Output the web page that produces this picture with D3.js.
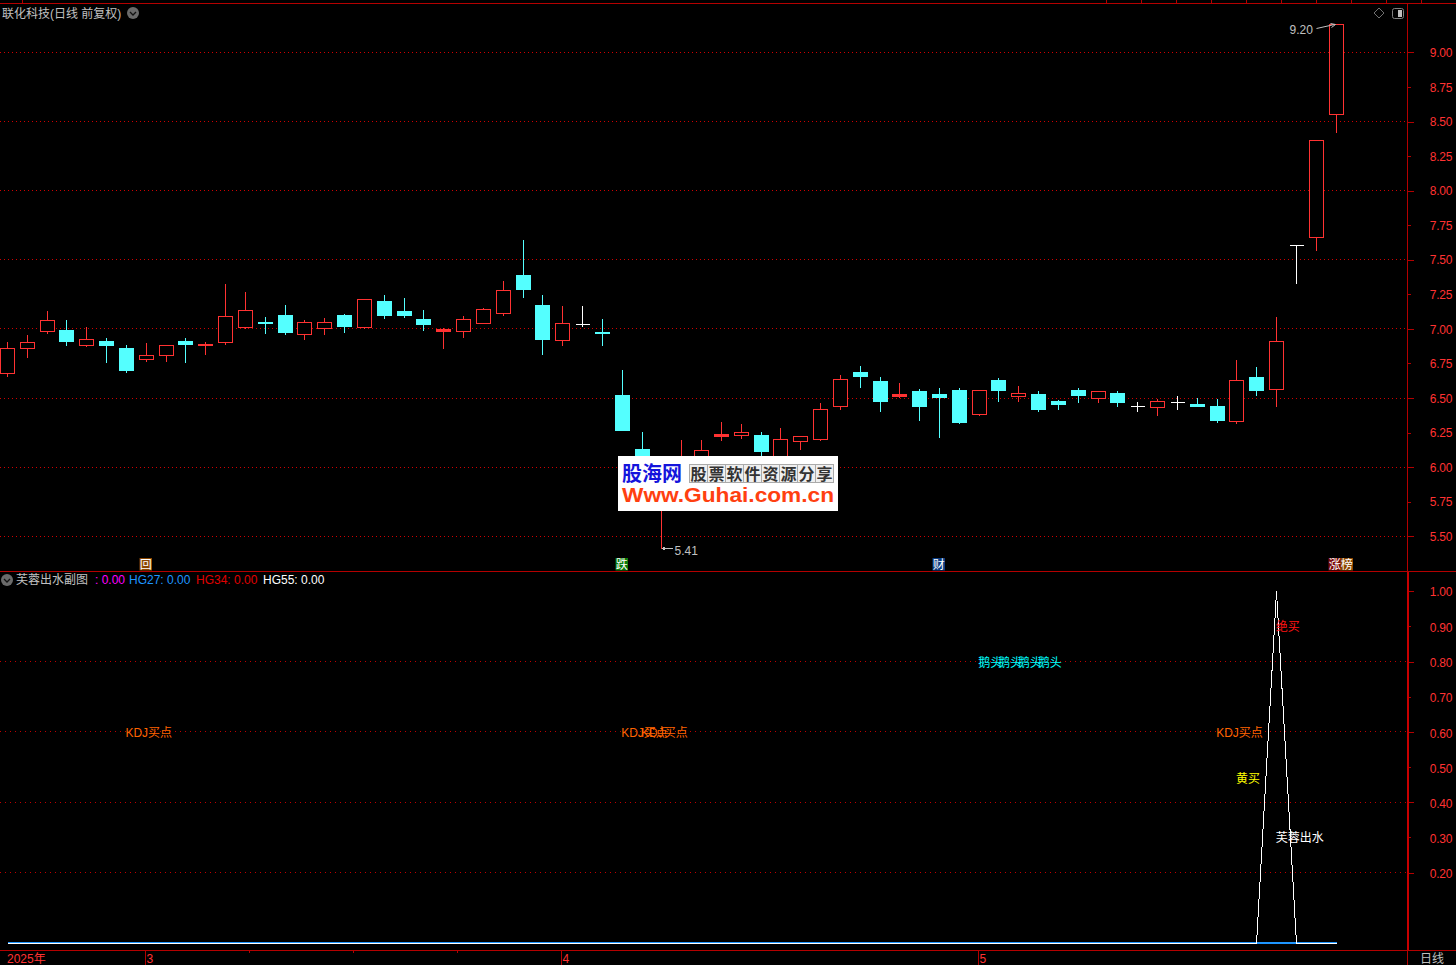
<!DOCTYPE html>
<html><head><meta charset="utf-8">
<script src="https://cdn.jsdelivr.net/npm/d3@7/dist/d3.min.js"></script>
<style>
html,body{margin:0;padding:0;background:#000;overflow:hidden}
svg{display:block}
text{font-family:"Liberation Sans","Noto Sans CJK SC",sans-serif;font-size:12px}
</style></head><body>
<svg id="c" width="1456" height="965"></svg>
<script>
// ---- price data ----
const opens  = [6.68,6.86,6.98,6.99,6.88,6.91,6.855,6.78,6.81,6.91,6.88,6.90,7.01,7.05,7.10,6.96,7.00,7.10,7.01,7.195,7.125,7.065,6.98,6.98,7.04,7.11,7.383,7.167,6.916,7.03,6.975,6.516,6.126,5.72,5.93,6.00,6.222,6.23,6.227,6.05,6.186,6.20,6.44,6.682,6.617,6.509,6.545,6.523,6.552,6.379,6.625,6.509,6.523,6.473,6.552,6.495,6.531,6.44,6.43,6.47,6.451,6.437,6.328,6.646,6.564,7.60,7.663,8.552];
const closes = [6.86,6.90,7.06,6.91,6.92,6.88,6.70,6.81,6.88,6.89,6.89,7.09,7.135,7.04,6.975,7.05,7.05,7.02,7.215,7.10,7.095,7.035,6.995,7.07,7.143,7.28,7.282,6.921,7.04,7.03,6.97,6.263,5.98,5.95,6.03,6.124,6.239,6.254,6.111,6.203,6.225,6.42,6.632,6.654,6.473,6.523,6.437,6.502,6.321,6.552,6.552,6.531,6.415,6.451,6.516,6.545,6.466,6.44,6.473,6.47,6.437,6.336,6.625,6.552,6.911,7.60,8.364,9.20];
const highs  = [6.91,6.96,7.13,7.065,7.02,6.94,6.885,6.90,6.88,6.94,6.91,7.33,7.27,7.09,7.18,7.065,7.08,7.115,7.215,7.25,7.225,7.14,7.01,7.094,7.157,7.347,7.644,7.246,7.167,7.167,7.073,6.71,6.256,6.00,6.198,6.198,6.328,6.314,6.256,6.285,6.232,6.466,6.668,6.733,6.654,6.61,6.567,6.574,6.574,6.552,6.646,6.589,6.552,6.487,6.574,6.545,6.552,6.473,6.495,6.516,6.502,6.495,6.776,6.726,7.087,7.605,8.364,9.20];
const lows   = [6.655,6.79,6.97,6.88,6.87,6.76,6.685,6.765,6.765,6.76,6.815,6.89,7.005,6.97,6.96,6.92,6.96,6.975,7.005,7.075,7.085,6.985,6.856,6.935,7.04,7.10,7.225,6.813,6.878,7.015,6.878,6.263,5.90,5.41,5.90,5.98,6.191,6.206,6.04,6.03,6.126,6.19,6.42,6.574,6.401,6.502,6.336,6.213,6.314,6.372,6.473,6.473,6.401,6.415,6.466,6.466,6.437,6.401,6.372,6.415,6.437,6.321,6.314,6.516,6.439,7.328,7.566,8.419];
const priceTicks = [5.5,5.75,6,6.25,6.5,6.75,7,7.25,7.5,7.75,8,8.25,8.5,8.75,9];
const priceGrid  = [5.5,6,6.5,7,7.5,8,8.5,9];
// ---- sub panel data ----
const hg0  = [0,0,0,0,0,0,0,0,0,0,0,0,0,0,0,0,0,0,0,0,0,0,0,0,0,0,0,0,0,0,0,0,0,0,0,0,0,0,0,0,0,0,0,0,0,0,0,0,0,0,0,0,0,0,0,0,0,0,0,0,0,0,0,0,0,0,0,0];
const hg27 = [0,0,0,0,0,0,0,0,0,0,0,0,0,0,0,0,0,0,0,0,0,0,0,0,0,0,0,0,0,0,0,0,0,0,0,0,0,0,0,0,0,0,0,0,0,0,0,0,0,0,0,0,0,0,0,0,0,0,0,0,0,0,0,0,0,0,0,0];
const hg34 = [0,0,0,0,0,0,0,0,0,0,0,0,0,0,0,0,0,0,0,0,0,0,0,0,0,0,0,0,0,0,0,0,0,0,0,0,0,0,0,0,0,0,0,0,0,0,0,0,0,0,0,0,0,0,0,0,0,0,0,0,0,0,0,0,0,0,0,0];
const hg55 = [0,0,0,0,0,0,0,0,0,0,0,0,0,0,0,0,0,0,0,0,0,0,0,0,0,0,0,0,0,0,0,0,0,0,0,0,0,0,0,0,0,0,0,0,0,0,0,0,0,0,0,0,0,0,0,0,0,0,0,0,0,0,0,0,1,0,0,0];
const subTicks = [0.2,0.3,0.4,0.5,0.6,0.7,0.8,0.9,1.0];
const subGrid  = [0.2,0.4,0.6,0.8];
const subLabelText  = ["KDJ买点","KDJ买点","KDJ买点","KDJ买点","鹅头","鹅头","鹅头","鹅头","绝买","黄买","芙蓉出水"];
const subLabelIndex = [6,31,32,61,49,50,51,52,64,62,64];
const subLabelValue = [0.6,0.6,0.6,0.6,0.8,0.8,0.8,0.8,0.9,0.47,0.3];
const subLabelColor = ["#ff6400","#ff6400","#ff6400","#ff6400","#00ffff","#00ffff","#00ffff","#00ffff","#ff1414","#ffff00","#ffffff"];
// ---- signals ----
const badgeText  = ["回","跌","财","涨","榜"];
const badgeIndex = [7,31,47,67,67];
const badgeShift = [0,0,0,-1,11];
const badgeFill  = ["#8a4600","#0a7a0a","#0a3c82","#7a0a0a","#8a4600"];
// ---- time axis ----
const monthTick = [145.5,561.5,978.5];
const monthLabel = ["3","4","5"];
const monthMinor = [249.5,353.5,457.5];
const logoBoxes = ["股","票","软","件","资","源","分","享"];

const RED="#ff3232", CYAN="#54ffff", AX="#b40000";
const svg=d3.select("#c");
const x=d3.scaleLinear().domain([0,67]).range([7.4,1336.14]);
const y=d3.scaleLinear().domain([5.5,9]).range([536.3,52.4]);
const ys=d3.scaleLinear().domain([0,1]).range([943,591.3]);
const cx=i=>Math.floor(x(i))+0.5;
const cy=v=>Math.floor(y(v))+0.5;

// grids
svg.append("g").selectAll("line").data(priceGrid).join("line")
 .attr("x1",0).attr("x2",1407).attr("y1",d=>Math.floor(y(d))+.5).attr("y2",d=>Math.floor(y(d))+.5)
 .attr("stroke","#d00000").attr("stroke-dasharray","1 3").attr("shape-rendering","crispEdges");
svg.append("g").selectAll("line").data(subGrid).join("line")
 .attr("x1",0).attr("x2",1407).attr("y1",d=>Math.floor(ys(d))+.5).attr("y2",d=>Math.floor(ys(d))+.5)
 .attr("stroke","#c00000").attr("stroke-dasharray","1 4").attr("shape-rendering","crispEdges");

// candles
const col=i=>closes[i]>opens[i]?RED:closes[i]<opens[i]?CYAN:"#ffffff";
const g=svg.append("g").attr("shape-rendering","crispEdges");
const idx=d3.range(opens.length);
g.selectAll(".w").data(idx).join("line").attr("class","w")
 .attr("x1",cx).attr("x2",cx).attr("y1",i=>cy(highs[i])).attr("y2",i=>cy(lows[i])).attr("stroke",col);
g.selectAll(".b").data(idx).join("rect").attr("class","b")
 .each(function(i){
   const t=cy(Math.max(opens[i],closes[i])), b=cy(Math.min(opens[i],closes[i])), s=d3.select(this), c=cx(i);
   if(closes[i]>opens[i]){
     if(b-t<3){ s.attr("x",c-7.5).attr("y",t-.5).attr("width",15).attr("height",Math.max(1,b-t+1)).attr("fill",RED); }
     else s.attr("x",c-7).attr("y",t).attr("width",14).attr("height",b-t).attr("fill","#000").attr("stroke",RED);
   } else if(closes[i]<opens[i]){
     s.attr("x",c-7.5).attr("y",t-.5).attr("width",15).attr("height",Math.max(1,b-t+1)).attr("fill",CYAN);
   } else {
     s.attr("x",c-7).attr("y",t-.5).attr("width",14).attr("height",1).attr("fill","#fff");
   }
 });

// extreme labels
const GREY="#c0c0c0";
const hiI=d3.greatestIndex(highs), loI=d3.leastIndex(lows);
svg.append("path").attr("fill","none").attr("stroke",GREY)
 .attr("d",`M${cx(hiI)-20},${cy(highs[hiI])+4}L${cx(hiI)-2},${cy(highs[hiI])}M${cx(hiI)-6},${cy(highs[hiI])-1}L${cx(hiI)-1},${cy(highs[hiI])}L${cx(hiI)-5},${cy(highs[hiI])+3}`);
svg.append("text").attr("x",cx(hiI)-47).attr("y",cy(highs[hiI])+9.5).attr("fill",GREY).text(d3.format(".2f")(highs[hiI]));
svg.append("path").attr("fill","none").attr("stroke",GREY).attr("shape-rendering","crispEdges")
 .attr("d",`M${cx(loI)+1},${cy(lows[loI])}H${cx(loI)+11}M${cx(loI)+4},${cy(lows[loI])-2}L${cx(loI)+1},${cy(lows[loI])}L${cx(loI)+4},${cy(lows[loI])+2}`);
svg.append("text").attr("x",cx(loI)+13).attr("y",cy(lows[loI])+6.5).attr("fill",GREY).text(d3.format(".2f")(lows[loI]));

// frame
const fr=svg.append("g").attr("shape-rendering","crispEdges").attr("stroke",AX);
fr.append("line").attr("x1",0).attr("x2",1456).attr("y1",3.5).attr("y2",3.5);
fr.append("line").attr("x1",0).attr("x2",1456).attr("y1",571.5).attr("y2",571.5);
fr.append("line").attr("x1",0).attr("x2",1456).attr("y1",950.5).attr("y2",950.5);
fr.append("line").attr("x1",1407.5).attr("x2",1407.5).attr("y1",3).attr("y2",572);
fr.append("line").attr("x1",1408).attr("x2",1408).attr("y1",572).attr("y2",950).attr("stroke-width",2).attr("stroke","#c80000");
fr.append("line").attr("x1",1407.5).attr("x2",1407.5).attr("y1",950).attr("y2",965);
fr.selectAll(".t").data([22,1106,1141,1176,1211,1246.5,1281.5,1316.5,1351.5,1386.5,1421.5]).join("line").attr("class","t")
 .attr("x1",d=>Math.floor(d)+.5).attr("x2",d=>Math.floor(d)+.5).attr("y1",0).attr("y2",3);

// price axis
const ax=svg.append("g").attr("transform","translate(1407.5,0)")
 .call(d3.axisRight(y).tickValues(priceTicks).tickFormat(d3.format(".2f")).tickSizeOuter(0));
ax.select(".domain").remove();
ax.selectAll(".tick line").attr("stroke",AX).attr("x2",d=>priceGrid.includes(d)?6:3).attr("shape-rendering","crispEdges");
ax.selectAll(".tick text").attr("x",44.5).attr("text-anchor","end").attr("fill",RED).attr("dy","0.34em")
 .style("font-family",'"Liberation Sans"').style("font-size","12px").style("letter-spacing","-0.3px");

// sub axis
const as=svg.append("g").attr("transform","translate(1408.5,0)")
 .call(d3.axisRight(ys).tickValues(subTicks).tickFormat(d3.format(".2f")).tickSizeOuter(0));
as.select(".domain").remove();
as.selectAll(".tick line").attr("stroke",AX).attr("x2",d=>subGrid.includes(d)||d===1?5:2).attr("shape-rendering","crispEdges");
as.selectAll(".tick text").attr("x",43.5).attr("text-anchor","end").attr("fill",RED).attr("dy",d=>d===1?"0.34em":"0.42em")
 .style("font-family",'"Liberation Sans"').style("font-size","12px").style("letter-spacing","-0.3px");

// sub lines
const line=d3.line().x((d,i)=>cx(i)).y(d=>Math.round(ys(d))+.5);
const pl=svg.append("g").attr("fill","none").attr("shape-rendering","crispEdges");
pl.append("path").attr("d",line(hg0)).attr("stroke","#ff00ff");
pl.append("path").attr("d",line(hg34)).attr("stroke","#e00000");
pl.append("path").attr("d",line(hg27)).attr("stroke","#1e96ff").attr("stroke-width",2).attr("transform","translate(0,-1)");
pl.append("path").attr("d",line(hg55)).attr("stroke","#ffffff");

// sub labels
svg.append("g").selectAll("text").data(subLabelText).join("text")
 .attr("x",(d,i)=>x(subLabelIndex[i])-1).attr("y",(d,i)=>ys(subLabelValue[i])+5)
 .attr("fill",(d,i)=>subLabelColor[i]).text(d=>d);

// badges
const bd=svg.append("g");
bd.selectAll("rect").data(badgeText).join("rect")
 .attr("x",(d,i)=>cx(badgeIndex[i])+badgeShift[i]-7).attr("y",558).attr("width",12.5).attr("height",12.5)
 .attr("fill",(d,i)=>badgeFill[i]);
bd.selectAll("text").data(badgeText).join("text")
 .attr("x",(d,i)=>cx(badgeIndex[i])+badgeShift[i]-0.75).attr("y",568.5).attr("text-anchor","middle")
 .attr("fill","#fff").text(d=>d);

// titles
svg.append("text").attr("x",2).attr("y",17.5).attr("fill",GREY).text("联化科技(日线 前复权)");
function chev(cx0,cy0){
  svg.append("circle").attr("cx",cx0).attr("cy",cy0).attr("r",6).attr("fill","#6a6a6a");
  svg.append("path").attr("d",`M${cx0-3},${cy0-1}L${cx0},${cy0+2}L${cx0+3},${cy0-1}`).attr("fill","none").attr("stroke","#111").attr("stroke-width",1.3);
}
chev(133,13); chev(7,580);
svg.append("path").attr("d","M1379,8L1384,13L1379,18L1374,13Z").attr("fill","none").attr("stroke","#707070");
svg.append("rect").attr("x",1392.5).attr("y",8.5).attr("width",11).attr("height",10).attr("rx",2).attr("fill","none").attr("stroke","#808080");
svg.append("rect").attr("x",1398).attr("y",10).attr("width",4).attr("height",7).attr("fill","#c0c0c0");

const legendText=["芙蓉出水副图",": 0.00","HG27: 0.00","HG34: 0.00","HG55: 0.00"];
const legendX=[16,95,129,196,263];
const legendC=[GREY,"#ff00ff","#1e96ff","#e00000","#ffffff"];
svg.append("g").selectAll("text").data(legendText).join("text")
 .attr("x",(d,i)=>legendX[i]).attr("y",584).attr("fill",(d,i)=>legendC[i]).text(d=>d);

// time axis
const ta=svg.append("g").attr("shape-rendering","crispEdges").attr("stroke",AX);
ta.selectAll(".m").data(monthTick).join("line").attr("class","m")
 .attr("x1",d=>d).attr("x2",d=>d).attr("y1",950).attr("y2",965);
ta.selectAll(".n").data(monthMinor).join("line").attr("class","n")
 .attr("x1",d=>d).attr("x2",d=>d).attr("y1",950).attr("y2",953);
svg.append("text").attr("x",7).attr("y",963).attr("fill",RED).text("2025年");
svg.append("g").selectAll("text").data(monthLabel).join("text")
 .attr("x",(d,i)=>monthTick[i]+1).attr("y",963).attr("fill",RED).text(d=>d);
svg.append("text").attr("x",1420).attr("y",963).attr("fill",GREY).text("日线");

// logo
const lg=svg.append("g");
lg.append("rect").attr("x",618).attr("y",456).attr("width",220).attr("height",55).attr("fill","#fff");
lg.append("text").attr("x",622).attr("y",481).attr("fill","#1414dc").style("font-size","20px").style("font-weight","bold").style("font-family",'"Noto Sans CJK SC"').text("股海网");
lg.selectAll(".bx").data(logoBoxes).join("rect").attr("class","bx")
 .attr("x",(d,i)=>689.5+i*18).attr("y",464.5).attr("width",18).attr("height",18).attr("fill","#efefef").attr("stroke","#aaa");
lg.selectAll(".bt").data(logoBoxes).join("text").attr("class","bt")
 .attr("x",(d,i)=>698.5+i*18).attr("y",479.5).attr("text-anchor","middle").attr("fill","#333")
 .style("font-size","16px").style("font-weight","bold").style("font-family",'"Noto Sans CJK SC"').text(d=>d);
lg.append("text").attr("x",622).attr("y",502).attr("fill","#ff4010").attr("textLength",212).attr("lengthAdjust","spacingAndGlyphs")
 .style("font-size","20px").style("font-weight","bold").text("Www.Guhai.com.cn");
</script>
</body></html>
